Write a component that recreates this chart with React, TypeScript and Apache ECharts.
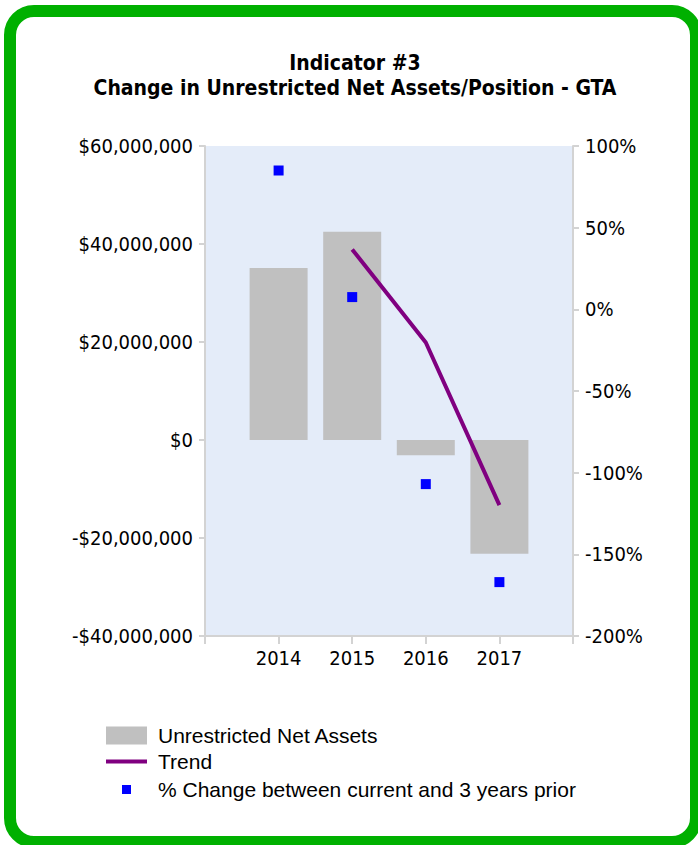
import React, { useEffect, useRef } from "react";
import * as echarts from "echarts";

const years = [2014, 2015, 2016, 2017];
const netAssets = [35.1e6, 42.5e6, -3.1e6, -23.2e6];
const trendYears = [2015, 2016, 2017];
const trendValues = [38.9e6, 19.9e6, -13.3e6];
const pctChange = [85, 7.5, -107, -167];
const xAxisRange = [2013, 2018];
const leftTicks = { min: -40e6, max: 60e6, interval: 20e6 };
const rightTicks = { min: -200, max: 100, interval: 50 };

const FONT = "'DejaVu Sans Condensed', 'DejaVu Sans', sans-serif";
const LEGEND_FONT = "'Liberation Sans', Arial, sans-serif";

function fmtMoney(v: number) {
  const s = Math.abs(v).toLocaleString("en-US");
  return (v < 0 ? "-" : "") + "$" + s;
}

export default function App() {
  const ref = useRef<HTMLDivElement>(null);
  useEffect(() => {
    if (!ref.current) return;
    const chart = echarts.init(ref.current, null, { renderer: "svg" });
    const axisGray = "#D3D3D3";
    chart.setOption({
      animation: false,
      backgroundColor: "#ffffff",
      title: {
        text: "Indicator #3\nChange in Unrestricted Net Assets/Position - GTA",
        left: 355,
        textAlign: "center",
        top: 50,
        padding: 0,
        textStyle: {
          fontFamily: FONT,
          fontSize: 21,
          fontWeight: "bold",
          lineHeight: 25,
          color: "#000",
        },
      },
      graphic: [
        {
          type: "rect",
          shape: { x: 10, y: 11, width: 686, height: 831, r: 24 },
          style: { fill: "none", stroke: "#00B000", lineWidth: 12 },
          silent: true,
        },
      ],
      grid: {
        left: 205,
        right: 125,
        top: 146,
        bottom: 209,
        show: true,
        backgroundColor: "#E4ECF9",
        borderWidth: 0,
      },
      xAxis: {
        type: "value",
        min: xAxisRange[0],
        max: xAxisRange[1],
        interval: 1,
        axisLine: { show: true, onZero: false, lineStyle: { color: axisGray, width: 2 } },
        axisTick: { show: true, length: 8, lineStyle: { color: axisGray, width: 2 } },
        splitLine: { show: false },
        axisLabel: {
          margin: 12,
          fontFamily: FONT,
          fontSize: 20,
          color: "#000",
          formatter: (v: number) => (years.includes(v) ? String(v) : ""),
        },
      },
      yAxis: [
        {
          type: "value",
          min: leftTicks.min,
          max: leftTicks.max,
          interval: leftTicks.interval,
          axisLine: { show: true, lineStyle: { color: axisGray, width: 2 } },
          axisTick: { show: true, length: 6, lineStyle: { color: axisGray, width: 2 } },
          splitLine: { show: false },
          axisLabel: {
            margin: 12,
            fontFamily: FONT,
            fontSize: 20,
            color: "#000",
            formatter: fmtMoney,
          },
        },
        {
          type: "value",
          position: "right",
          min: rightTicks.min,
          max: rightTicks.max,
          interval: rightTicks.interval,
          axisLine: { show: true, lineStyle: { color: axisGray, width: 2 } },
          axisTick: { show: true, length: 6, lineStyle: { color: axisGray, width: 2 } },
          splitLine: { show: false },
          axisLabel: {
            margin: 12,
            fontFamily: FONT,
            fontSize: 20,
            color: "#000",
            formatter: "{value}%",
          },
        },
      ],
      legend: [
        {
          orient: "vertical",
          left: 106,
          top: 725,
          padding: 0,
          itemWidth: 41,
          itemHeight: 18,
          itemGap: 5,
          selectedMode: false,
          textStyle: {
            fontFamily: LEGEND_FONT,
            fontSize: 21,
            color: "#000",
            padding: [0, 0, 0, 6],
          },
          data: [
            { name: "Unrestricted Net Assets", icon: "rect" },
            { name: "Trend", icon: "path://M0,0 L41,0 L41,4 L0,4 Z" },
          ],
        },
        {
          orient: "vertical",
          left: 122,
          top: 779,
          padding: 0,
          itemWidth: 9,
          itemHeight: 9,
          selectedMode: false,
          textStyle: {
            fontFamily: LEGEND_FONT,
            fontSize: 21,
            color: "#000",
            padding: [0, 0, 0, 22],
          },
          data: [{ name: "% Change between current and 3 years prior", icon: "rect" }],
        },
      ],
      series: [
        {
          name: "Unrestricted Net Assets",
          type: "bar",
          yAxisIndex: 0,
          barWidth: 58,
          itemStyle: { color: "#C0C0C0" },
          data: years.map((y, i) => [y, netAssets[i]]),
        },
        {
          name: "Trend",
          type: "line",
          yAxisIndex: 0,
          symbol: "none",
          lineStyle: { color: "#800080", width: 4 },
          itemStyle: { color: "#800080" },
          data: trendYears.map((y, i) => [y, trendValues[i]]),
          z: 3,
        },
        {
          name: "% Change between current and 3 years prior",
          type: "scatter",
          yAxisIndex: 1,
          symbol: "rect",
          symbolSize: 10,
          itemStyle: { color: "#0000FF", opacity: 1 },
          data: years.map((y, i) => [y, pctChange[i]]),
          z: 4,
        },
      ],
    });
    return () => chart.dispose();
  }, []);
  return (
    <div
      ref={ref}
      style={{ position: "absolute", left: 0, top: 0, width: 698, height: 845 }}
    />
  );
}
